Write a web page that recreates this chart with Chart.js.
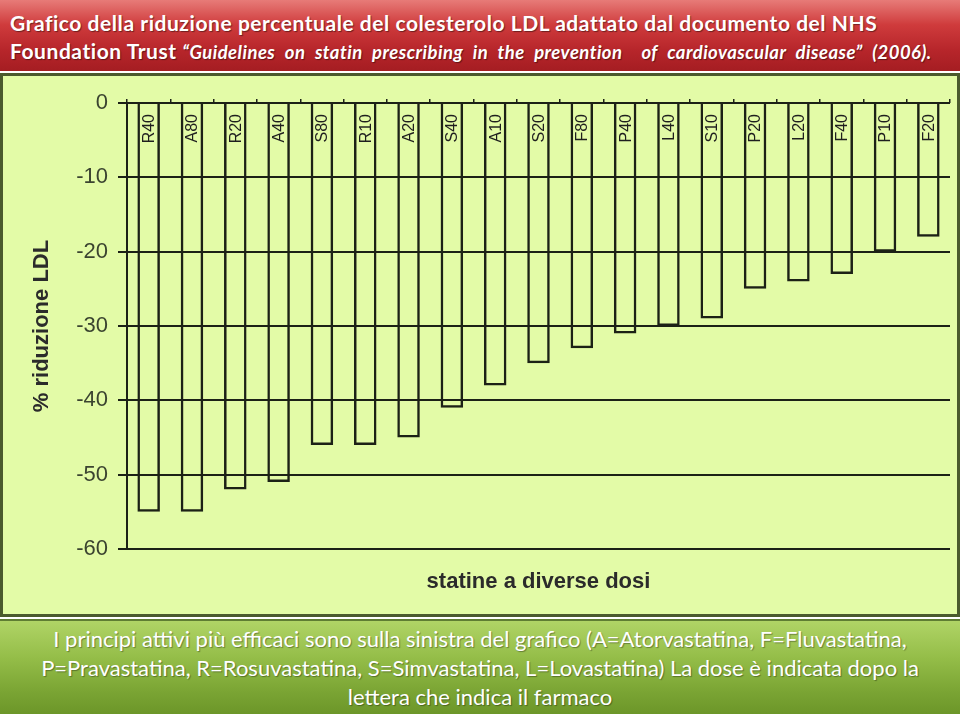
<!DOCTYPE html>
<html>
<head>
<meta charset="utf-8">
<script src="https://cdn.jsdelivr.net/npm/chart.js@4.4.1/dist/chart.umd.min.js"></script>
<style>
  html, body { margin: 0; padding: 0; background: #ffffff; }
  body { width: 960px; height: 720px; position: relative; overflow: hidden; }
  .header {
    position: absolute; left: 0; top: 0; width: 960px; height: 71px;
    background: linear-gradient(#e77b78 0%, #cf3b3c 35%, #b7262b 70%, #a51d22 100%);
    color: #fff; font-family: Lato, "Liberation Sans", sans-serif; font-weight: bold;
    font-size: 21px; letter-spacing: 0.55px; line-height: 28px; box-sizing: border-box; padding: 9px 0 0 10px;
    text-shadow: 1px 1px 1px rgba(0,0,0,0.45); white-space: nowrap;
  }
  .header i { font-size: 18.5px; letter-spacing: 0.45px; word-spacing: 5px; }
  .panel {
    position: absolute; left: 0; top: 73px; width: 960px; height: 544px;
    background: #e3fba7; border: 3px solid #4b5a2e; box-sizing: border-box;
  }
  #chart-wrap { position: absolute; left: 0; top: 73px; width: 960px; height: 544px; }
  .footer {
    position: absolute; left: 0; top: 619px; width: 960px; height: 95px;
    background: linear-gradient(#b0d466 0%, #94bd48 40%, #7ba534 75%, #6c9629 100%);
    border-top: 2px solid #5f7d33; box-sizing: border-box;
    color: #fff; font-family: Lato, "Liberation Sans", sans-serif; font-size: 22px;
    line-height: 29px; text-align: center; padding-top: 3px; white-space: nowrap;
    text-shadow: 1px 1px 1px rgba(0,0,0,0.35);
  }
</style>
</head>
<body>
<div class="header">Grafico della riduzione percentuale del colesterolo LDL adattato dal documento del NHS<br>Foundation Trust <i>“Guidelines on statin prescribing in the prevention&nbsp; of cardiovascular disease” (2006).</i></div>
<div class="panel"></div>
<div id="chart-wrap"><canvas id="ldl-chart" width="960" height="544"></canvas></div>
<div class="footer">I principi attivi più efficaci sono sulla sinistra del grafico (A=Atorvastatina, F=Fluvastatina,<br>P=Pravastatina, R=Rosuvastatina, S=Simvastatina, L=Lovastatina) La dose è indicata dopo la<br>lettera che indica il farmaco</div>
<script>
  const statins = ['R40', 'A80', 'R20', 'A40', 'S80', 'R10', 'A20', 'S40', 'A10', 'S20',
                   'F80', 'P40', 'L40', 'S10', 'P20', 'L20', 'F40', 'P10', 'F20'];
  const ldlReduction = [-55, -55, -52, -51, -46, -46, -45, -41, -38, -35,
                        -33, -31, -30, -29, -25, -24, -23, -20, -18];
  const yMin = -60;
  const yMax = 0;
  const yStep = 10;

  const inkColor = '#1c2116';
  const tickColor = '#3b4430';

  // draws the dose labels inside each bar, just under the zero line
  const barLabels = {
    id: 'barLabels',
    afterDatasetsDraw: function (chart) {
      const ctx = chart.ctx;
      const xScale = chart.scales.x;
      const y0 = chart.scales.y.getPixelForValue(0);
      ctx.save();
      ctx.font = '16px "Liberation Sans", Arial, sans-serif';
      ctx.fillStyle = '#1e1e1e';
      ctx.textAlign = 'right';
      ctx.textBaseline = 'middle';
      for (let i = 0; i < statins.length; i++) {
        ctx.save();
        ctx.translate(xScale.getPixelForValue(i) + 1, y0 + 11);
        ctx.rotate(-Math.PI / 2);
        ctx.fillText(statins[i], 0, 0);
        ctx.restore();
      }
      ctx.restore();
    }
  };

  const ctx = document.getElementById('ldl-chart');
  new Chart(ctx, {
    type: 'bar',
    data: {
      labels: statins,
      datasets: [{
        label: '% riduzione LDL',
        data: ldlReduction,
        backgroundColor: 'rgba(0,0,0,0)',
        borderColor: inkColor,
        borderWidth: 2.5,
        barPercentage: 0.52,
        categoryPercentage: 1.0,
      }]
    },
    options: {
      responsive: false,
      animation: false,
      layout: {
        padding: { left: 0, right: 10, top: 0, bottom: 0 }
      },
      scales: {
        x: {
          position: 'bottom',
          grid: { display: false },
          border: { display: false },
          ticks: { display: false },
          title: {
            display: true,
            text: 'statine a diverse dosi',
            color: '#2b2b2b',
            font: { family: '"Liberation Sans", Arial, sans-serif', size: 22, weight: 'bold' },
            padding: { top: 0, bottom: 22 }
          },
          afterFit: function (scale) { scale.height = 68; }
        },
        x2: {
          type: 'category',
          position: 'top',
          offset: true,
          grid: { offset: true, drawOnChartArea: false, tickLength: 4, color: inkColor, lineWidth: 1.5 },
          border: { display: false },
          ticks: { display: false },
          afterFit: function (scale) { scale.height = 30; }
        },
        y: {
          min: yMin,
          max: yMax,
          ticks: {
            stepSize: yStep,
            color: tickColor,
            padding: 10,
            font: { family: '"Liberation Sans", Arial, sans-serif', size: 22 }
          },
          grid: { color: inkColor, lineWidth: 2, tickLength: 9 },
          border: { display: true, color: inkColor, width: 2 },
          title: {
            display: true,
            text: '% riduzione LDL',
            color: '#2b2b2b',
            font: { family: '"Liberation Sans", Arial, sans-serif', size: 22, weight: 'bold' },
            padding: { top: 29, bottom: 0 }
          },
          afterFit: function (scale) { scale.width = 127; }
        }
      },
      plugins: {
        legend: { display: false },
        tooltip: { enabled: false }
      }
    },
    plugins: [barLabels]
  });
</script>
</body>
</html>
